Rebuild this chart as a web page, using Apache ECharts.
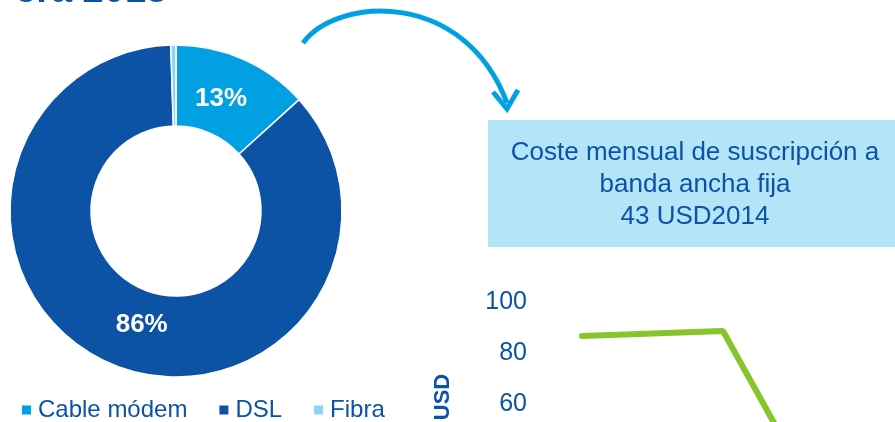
<!DOCTYPE html>
<html>
<head>
<meta charset="utf-8">
<script src="https://cdn.jsdelivr.net/npm/echarts@6/dist/echarts.min.js"></script>
<style>
html,body{margin:0;padding:0;overflow:hidden;background:#fff;width:895px;height:422px;}
#c{position:absolute;left:0;top:0;width:895px;height:600px;}
</style>
</head>
<body>
<div id="c"></div>
<script>
// Donut: share of fixed broadband by technology
const techNames = ['Cable módem', 'DSL', 'Fibra'];
const techShare = [13.3, 86.2, 0.5];
const techColors = ['#00A0E3', '#0C52A5', '#8DD4F2'];

// Line: monthly fixed broadband cost (USD)
const periods = ['p1', 'p2', 'p3', 'p4'];
const costUSD = [86.7, null, 88.6, 38.8];
const yTicks = [20, 100, 20]; // min, max, interval

const titleText = 'era 2013';
const boxLines = ['Coste mensual de suscripción a', 'banda ancha fija', '43 USD2014'];
const yAxisName = 'USD';

const FONT = '"Liberation Sans", Arial, sans-serif';
const DARK = '#0C52A5';

const labelOffsets = [[-7, 5], [16, -4], [0, 0]];

const chart = echarts.init(document.getElementById('c'), null, {renderer: 'canvas'});

const option = {
  animation: false,
  backgroundColor: '#ffffff',
  textStyle: {fontFamily: FONT},
  legend: {
    data: techNames,
    left: 22,
    top: 398,
    padding: 0,
    icon: 'rect',
    itemWidth: 9,
    itemHeight: 9,
    itemGap: 32,
    itemStyle: {borderWidth: 0},
    textStyle: {fontSize: 24, color: DARK, fontFamily: FONT, padding: [0, 0, 0, 2]}
  },
  grid: {left: 582, top: 302, width: 211.5, height: 204},
  xAxis: {
    type: 'category',
    data: periods,
    boundaryGap: false,
    axisLine: {show: false},
    axisTick: {show: false},
    axisLabel: {show: false}
  },
  yAxis: {
    type: 'value',
    min: yTicks[0], max: yTicks[1], interval: yTicks[2],
    name: yAxisName,
    nameLocation: 'middle',
    nameGap: 128,
    nameTextStyle: {fontSize: 22, fontWeight: 'bold', color: DARK, fontFamily: FONT, padding: [0, 0, 0, 14]},
    axisLine: {show: false},
    axisTick: {show: false},
    splitLine: {show: false},
    axisLabel: {fontSize: 25, color: DARK, margin: 55, fontFamily: FONT}
  },
  series: [
    {
      type: 'pie',
      center: [176, 211],
      radius: [85, 166],
      startAngle: 90,
      clockwise: true,
      avoidLabelOverlap: false,
      itemStyle: {borderColor: '#ffffff', borderWidth: 1.5},
      label: {
        show: true,
        position: 'inside',
        color: '#ffffff',
        fontSize: 26,
        fontWeight: 'bold',
        fontFamily: FONT,
        formatter: p => p.value >= 1 ? Math.round(p.value) + '%' : ''
      },
      labelLine: {show: false},
      emphasis: {disabled: true},
      data: techNames.map((n, i) => ({
        name: n, value: techShare[i],
        itemStyle: {color: techColors[i]},
        label: {offset: labelOffsets[i]}
      }))
    },
    {
      type: 'line',
      data: costUSD,
      connectNulls: true,
      showSymbol: false,
      symbol: 'none',
      lineStyle: {color: '#86C52B', width: 6, cap: 'round'},
      itemStyle: {color: '#86C52B'}
    }
  ],
  graphic: [
    {
      type: 'text', x: 15, y: -27,
      style: {text: titleText, font: 'bold 38px ' + FONT, fill: DARK, verticalAlign: 'top'}
    },
    {
      type: 'bezierCurve',
      shape: {x1: 303, y1: 43, cpx1: 336, cpy1: -3, cpx2: 464, cpy2: -12, x2: 507, y2: 103},
      style: {stroke: '#00A0E3', lineWidth: 5, fill: null}
    },
    {
      type: 'polyline',
      shape: {points: [[493, 92], [507, 109], [518, 90]]},
      style: {stroke: '#00A0E3', lineWidth: 5, fill: null}
    },
    {
      type: 'rect',
      shape: {x: 488, y: 120, width: 420, height: 127},
      style: {fill: '#B3E4F8'}
    },
    {
      type: 'text', x: 695, y: 185,
      style: {
        text: boxLines.join('\n'),
        font: '26px ' + FONT,
        lineHeight: 32,
        fill: DARK,
        align: 'center',
        verticalAlign: 'middle'
      }
    }
  ]
};
chart.setOption(option);
</script>
</body>
</html>
